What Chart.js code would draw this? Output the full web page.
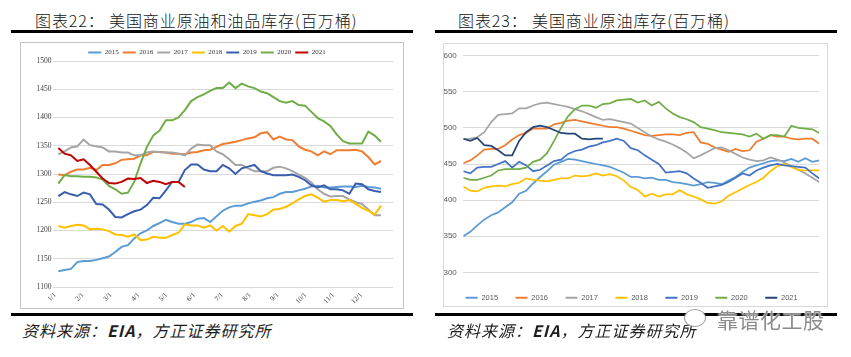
<!DOCTYPE html>
<html lang="zh-CN">
<head>
<meta charset="utf-8">
<title>美国商业原油和油品库存</title>
<script src="https://cdn.jsdelivr.net/npm/chart.js@4.4.1/dist/chart.umd.min.js"></script>
<style>
html,body{margin:0;padding:0;background:#fff;}
body{position:relative;width:851px;height:357px;overflow:hidden;font-family:"Noto Sans CJK SC","Noto Sans",sans-serif;}
.title{position:absolute;top:10px;height:20px;line-height:20px;font-size:16px;font-weight:300;letter-spacing:0.9px;color:#141414;white-space:nowrap;}
.rule{position:absolute;height:3px;background:#000;}
.frame{position:absolute;box-sizing:border-box;border:1px solid #c4c4c4;background:#fff;}
.frame canvas{display:block;}
.src{position:absolute;top:320px;height:20px;line-height:20px;font-size:16px;font-style:italic;letter-spacing:1px;color:#1e1e1e;white-space:nowrap;}
.wm{position:absolute;left:717px;top:306px;font-size:21px;line-height:26px;color:#8c8c8c;letter-spacing:0.5px;white-space:nowrap;text-shadow:0 0 2px #fff,0 0 2px #fff;}
.icon{position:absolute;left:684px;top:309px;width:20px;height:16px;border:1.5px solid #9a9a9a;border-radius:50%;background:#fff;}
</style>
</head>
<body>
<div class="title" style="left:35px">图表22：&nbsp;美国商业原油和油品库存(百万桶)</div>
<div class="rule" style="left:11px;width:402px;top:30px"></div>
<div class="frame" style="left:20px;top:42px;width:384px;height:267px"><canvas id="cL" width="382" height="265"></canvas></div>
<div class="rule" style="left:11px;width:402px;top:313px"></div>
<div class="src" style="left:22px">资料来源：<b>EIA</b>，方正证券研究所</div>

<div class="title" style="left:458px">图表23：&nbsp;美国商业原油库存(百万桶)</div>
<div class="rule" style="left:435px;width:402px;top:30px"></div>
<div class="frame" style="left:443px;top:43px;width:385px;height:264px;border-color:#d9d9d9"><canvas id="cR" width="383" height="262"></canvas></div>
<div class="rule" style="left:435px;width:402px;top:313px"></div>
<div class="src" style="left:447px">资料来源：<b>EIA</b>，方正证券研究所</div>
<div class="icon"></div>
<div class="wm">靠谱化工股</div>

<script>
// ---------- data ----------
const weekIdx = Array.from({length: 52}, (_, i) => i);
const yearLabels = ['2015', '2016', '2017', '2018', '2019', '2020', '2021'];
const monthTicksL = ['1/1','2/1','3/1','4/1','5/1','6/1','7/1','8/1','9/1','10/1','11/1','12/1'];
const monthTicksR = ['1/3','2/3','3/3','4/3','5/3','6/3','7/3','8/3','9/3','10/3','11/3','12/3'];

// 图表22: 美国商业原油和油品库存 (百万桶), weekly
const stock2015 = [1128,1130,1132,1144,1146,1146,1148,1151,1154,1162,1171,1174,1186,1195,1200,1208,1213,1219,1215,1212,1212,1215,1221,1222,1215,1225,1235,1241,1244,1244,1248,1251,1253,1257,1259,1265,1268,1268,1271,1274,1278,1279,1276,1276,1277,1278,1278,1277,1279,1277,1276,1274];
const stock2016 = [1299,1298,1304,1308,1308,1311,1307,1316,1316,1319,1325,1326,1327,1333,1333,1339,1339,1338,1336,1336,1335,1338,1339,1342,1343,1348,1353,1355,1357,1360,1363,1365,1372,1374,1361,1366,1361,1360,1349,1343,1340,1333,1340,1335,1342,1342,1342,1343,1340,1330,1317,1323];
const stock2017 = [1335,1340,1347,1349,1361,1351,1349,1347,1340,1340,1338,1338,1333,1333,1338,1340,1339,1338,1338,1336,1333,1345,1352,1351,1351,1340,1335,1326,1316,1316,1310,1305,1305,1305,1311,1313,1310,1305,1299,1293,1285,1273,1265,1260,1261,1261,1255,1250,1247,1237,1227,1227];
const stock2018 = [1208,1205,1208,1210,1209,1202,1203,1202,1199,1193,1192,1189,1193,1183,1184,1189,1187,1187,1192,1196,1211,1209,1209,1205,1209,1200,1208,1198,1208,1212,1229,1227,1225,1229,1237,1238,1242,1248,1255,1261,1264,1258,1251,1254,1254,1252,1254,1247,1240,1235,1228,1244];
const stock2019 = [1261,1268,1264,1261,1267,1264,1247,1246,1237,1224,1223,1229,1234,1237,1245,1258,1257,1271,1286,1286,1307,1317,1317,1308,1305,1305,1316,1310,1300,1310,1313,1316,1305,1301,1298,1298,1298,1299,1295,1289,1280,1276,1280,1273,1273,1271,1265,1283,1282,1273,1270,1268];
const stock2020 = [1283,1298,1296,1296,1295,1295,1294,1290,1279,1273,1265,1267,1286,1319,1348,1368,1377,1395,1395,1400,1413,1429,1436,1441,1447,1452,1452,1462,1452,1460,1455,1452,1446,1443,1436,1429,1426,1429,1422,1421,1410,1399,1393,1385,1370,1358,1354,1354,1354,1375,1368,1357];
const stock2021 = [1346,1336,1333,1323,1326,1316,1304,1292,1284,1283,1286,1292,1291,1293,1284,1288,1286,1282,1286,1286,1277];

// 图表23: 美国商业原油库存 (百万桶), weekly
const crude2015 = [350,356,365,373,379,383,390,397,409,413,423,432,440,449,453,457,456,454,452,450,448,446,442,438,432,432,430,431,428,428,425,424,422,420,422,425,424,422,427,432,439,445,448,451,454,455,454,457,453,458,453,455];
const crude2016 = [451,455,462,470,471,471,476,484,490,493,499,499,499,505,507,510,511,509,507,505,503,501,501,499,496,493,490,489,490,491,491,490,493,494,480,478,473,470,467,471,468,469,481,485,490,488,488,485,484,485,485,478];
const crude2017 = [484,485,487,494,508,518,519,520,527,527,531,534,535,533,531,529,526,523,519,515,511,512,510,508,506,500,494,488,484,481,477,472,466,458,462,467,472,473,469,464,459,456,454,455,459,456,452,447,442,437,431,425];
const crude2018 = [419,413,412,417,419,420,419,422,424,430,428,427,426,428,430,430,434,433,434,437,434,436,433,427,418,414,405,409,405,408,408,414,408,405,401,396,395,398,406,411,416,421,425,431,440,447,450,446,442,441,441,441];
const crude2019 = [440,437,445,446,446,450,454,445,453,448,440,442,448,454,456,464,468,470,474,476,480,482,485,482,472,469,462,456,450,438,439,440,437,430,424,417,419,421,425,431,437,434,441,445,448,450,448,447,446,445,437,430];
const crude2020 = [431,428,428,431,434,441,443,443,443,445,453,456,465,482,500,516,526,531,531,528,533,534,538,539,540,535,538,531,536,527,520,515,512,508,501,499,497,494,493,492,491,488,492,485,490,490,488,503,500,499,498,493];
const crude2021 = [485,482,486,476,475,469,462,462,482,494,501,503,501,497,493,492,492,485,484,485,485];

const colorsL = ['#5B9BD5', '#ED7D31', '#A5A5A5', '#FFC000', '#3A5DAE', '#70AD47', '#C00000'];
const colorsR = ['#5B9BD5', '#ED7D31', '#A5A5A5', '#FFC000', '#4472C4', '#70AD47', '#264478'];

// ---------- helpers ----------
function makeSets(series, colors, width) {
  return series.map((d, i) => ({
    label: yearLabels[i], data: d, borderColor: colors[i], backgroundColor: colors[i],
    borderWidth: width, pointRadius: 0, tension: 0, fill: false, order: series.length - i
  }));
}
function legendItems(color) {
  return chart => chart.data.datasets.map((d, i) => ({
    text: d.label, fillStyle: d.borderColor, strokeStyle: d.borderColor, lineWidth: 0,
    hidden: false, datasetIndex: i, fontColor: color
  }));
}
function legendHeight(h) {
  return {
    id: 'legendHeight',
    beforeUpdate(chart) {
      const lg = chart.legend;
      if (lg && !lg._fixedH) {
        const fit = lg.fit;
        lg.fit = function () { fit.call(this); this.height = h; };
        lg._fixedH = true;
      }
    }
  };
}

const serifFont = '"Liberation Serif", "Times New Roman", serif';
const sansFont = '"Liberation Sans", Arial, sans-serif';

// ---------- left chart ----------
new Chart(document.getElementById('cL'), {
  type: 'line',
  data: {
    labels: weekIdx,
    datasets: makeSets([stock2015, stock2016, stock2017, stock2018, stock2019, stock2020, stock2021], colorsL, 2)
  },
  options: {
    responsive: false, animation: false, devicePixelRatio: 1,
    layout: {padding: {top: 2, right: 10, left: 0, bottom: 0}},
    plugins: {
      tooltip: {enabled: false},
      legend: {
        position: 'top',
        labels: {boxWidth: 13, boxHeight: 2, padding: 4, font: {family: serifFont, size: 7}, color: '#333', generateLabels: legendItems('#333')}
      }
    },
    scales: {
      x: {
        type: 'linear', min: -0.84, max: 52.9, bounds: 'data',
        grid: {display: false, drawTicks: false}, border: {display: false},
        afterBuildTicks: s => { s.ticks = monthTicksL.map((_, i) => ({value: -0.5 + i * 4.4})); },
        afterFit: s => { s.height = 21; },
        ticks: {autoSkip: false, minRotation: 45, maxRotation: 45, padding: 4,
          font: {family: serifFont, size: 7}, color: '#404040',
          callback: (v, i) => monthTicksL[i]}
      },
      y: {
        min: 1100, max: 1500,
        grid: {color: '#d9d9d9', drawTicks: false}, border: {display: false},
        afterFit: s => { s.width = 32; },
        ticks: {stepSize: 50, padding: 1.5, font: {family: serifFont, size: 7.5}, color: '#404040',
          callback: v => String(v)}
      }
    }
  },
  plugins: [legendHeight(16)]
});

// ---------- right chart ----------
new Chart(document.getElementById('cR'), {
  type: 'line',
  data: {
    labels: weekIdx,
    datasets: makeSets([crude2015, crude2016, crude2017, crude2018, crude2019, crude2020, crude2021], colorsR, 1.75)
  },
  options: {
    responsive: false, animation: false, devicePixelRatio: 1,
    layout: {padding: {top: 11.7, right: 7.7, left: 0, bottom: 0}},
    plugins: {
      tooltip: {enabled: false},
      legend: {
        position: 'bottom',
        labels: {boxWidth: 12, boxHeight: 2, padding: 17.5, font: {family: sansFont, size: 7.5}, color: '#595959', generateLabels: legendItems('#595959')}
      }
    },
    scales: {
      x: {
        type: 'linear', min: 0, max: 51, bounds: 'data',
        grid: {display: false, drawTicks: false}, border: {display: false},
        afterBuildTicks: s => { s.ticks = monthTicksR.map((_, i) => ({value: i * 4.34})); },
        afterFit: s => { s.height = 4.15; },
        ticks: {autoSkip: false, minRotation: 0, maxRotation: 0, padding: 5.5,
          font: {family: sansFont, size: 7.5}, color: '#595959',
          callback: (v, i) => monthTicksR[i]}
      },
      y: {
        min: 300, max: 600,
        grid: {color: '#d9d9d9', drawTicks: false}, border: {display: false},
        afterFit: s => { s.width = 19.3; },
        ticks: {stepSize: 50, padding: 6.5, font: {family: sansFont, size: 8}, color: '#595959',
          callback: v => String(v)}
      }
    }
  },
  plugins: [legendHeight(29.55)]
});
</script>
</body>
</html>
